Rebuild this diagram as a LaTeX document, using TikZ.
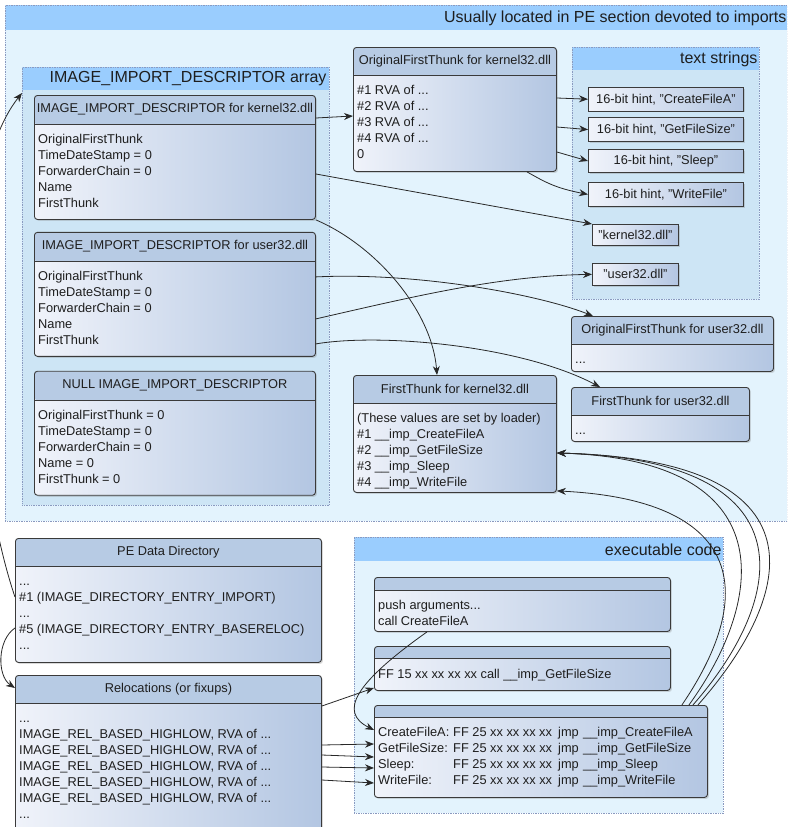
\documentclass[tikz,border=0pt]{standalone}
\usepackage{fontspec}
\setmainfont{Liberation Sans}
\usetikzlibrary{arrows.meta, positioning, calc, shadows}

\definecolor{bandblue}{RGB}{154,205,254}
\definecolor{outerfill}{RGB}{227,243,253}
\definecolor{innerfill}{RGB}{205,229,245}
\definecolor{grpline}{RGB}{138,154,192}
\definecolor{hdrfill}{RGB}{183,203,228}
\definecolor{bodyL}{RGB}{240,243,250}
\definecolor{bodyR}{RGB}{179,198,226}
\definecolor{boxline}{RGB}{58,58,58}
\definecolor{arrowc}{RGB}{40,40,40}
\definecolor{txt}{RGB}{30,30,30}

\begin{document}
\begin{tikzpicture}[
    x=1pt, y=-1pt,
    every node/.style={font=\fontsize{12.8}{16}\selectfont, text=txt},
    grp/.style={draw=grpline, densely dotted, line width=0.7pt, anchor=north west, inner sep=0pt},
    band/.style={path picture={\fill[bandblue] (path picture bounding box.north west) rectangle ([yshift=-#1]path picture bounding box.north east);}},
    grptitle/.style={font=\fontsize{16}{19}\selectfont, anchor=east, inner sep=0pt},
    box/.style={draw=boxline, line width=0.9pt, rounded corners=3pt, left color=bodyL, right color=bodyR, anchor=north west, inner sep=0pt, drop shadow={opacity=0.3, shadow xshift=1.5pt, shadow yshift=-1.5pt}},
    hdr/.style={path picture={\fill[hdrfill] (path picture bounding box.north west) rectangle ([yshift=-#1]path picture bounding box.north east);
        \draw[boxline, line width=1.2pt] ([yshift=-#1]path picture bounding box.north west) -- ([yshift=-#1]path picture bounding box.north east);}},
    ttl/.style={inner sep=0pt},
    body/.style={anchor=north west, align=left, inner xsep=4pt, inner ysep=0pt},
    hint/.style={draw=boxline, line width=0.9pt, left color=bodyL, right color=bodyR, anchor=north west, inner sep=0pt, minimum width=155pt, minimum height=23.5pt, drop shadow={opacity=0.3, shadow xshift=1.5pt, shadow yshift=-1.5pt}},
    arr/.style={-{Stealth[length=9pt, width=7pt]}, draw=arrowc, line width=0.8pt}
]
    \path[use as bounding box] (0,0) rectangle (787,827);
    \clip (0,0) rectangle (787,827);

    % groups
    \node (imports) [grp, fill=outerfill, band=25pt, minimum width=782pt, minimum height=516pt] at (5,5) {};
    \node (imports-t) [grptitle] at ($(imports.north east)+(-1,13)$) {Usually located in PE section devoted to imports};
    \node (descarr) [grp, fill=innerfill, band=23pt, minimum width=307pt, minimum height=438pt] at (22,67) {};
    \node (descarr-t) [grptitle] at ($(descarr.north east)+(-3,12)$) {IMAGE\_IMPORT\_DESCRIPTOR array};
    \node (strings) [grp, fill=innerfill, band=23pt, minimum width=187pt, minimum height=252pt] at (572,47) {};
    \node (strings-t) [grptitle] at ($(strings.north east)+(-2,12)$) {text strings};
    \node (execcode) [grp, fill=outerfill, band=24pt, minimum width=369pt, minimum height=276pt] at (354,537) {};
    \node (execcode-t) [grptitle] at ($(execcode.north east)+(-2,13)$) {executable code};

    % import descriptors
    \node (kdesc) [box, hdr=29pt, minimum width=281pt, minimum height=124pt] at (34,95) {};
    \node (kdesc-t) [ttl] at ($(kdesc.north)+(0,14.5)$) {IMAGE\_IMPORT\_DESCRIPTOR for kernel32.dll};
    \node (kdesc-b) [body] at ($(kdesc.north west)+(0,37.4)$) {\strut OriginalFirstThunk\\TimeDateStamp = 0\\ForwarderChain = 0\\Name\\FirstThunk};

    \node (udesc) [box, hdr=29pt, minimum width=281pt, minimum height=124pt, below=12pt of kdesc] {};
    \node (udesc-t) [ttl] at ($(udesc.north)+(0,14.5)$) {IMAGE\_IMPORT\_DESCRIPTOR for user32.dll};
    \node (udesc-b) [body] at ($(udesc.north west)+(0,37.4)$) {\strut OriginalFirstThunk\\TimeDateStamp = 0\\ForwarderChain = 0\\Name\\FirstThunk};

    \node (ndesc) [box, hdr=29pt, minimum width=281pt, minimum height=124pt, below=14pt of udesc] {};
    \node (ndesc-t) [ttl] at ($(ndesc.north)+(0,14.5)$) {NULL IMAGE\_IMPORT\_DESCRIPTOR};
    \node (ndesc-b) [body] at ($(ndesc.north west)+(0,37.4)$) {\strut OriginalFirstThunk = 0\\TimeDateStamp = 0\\ForwarderChain = 0\\Name = 0\\FirstThunk = 0};

    % thunks
    \node (koft) [box, hdr=28pt, minimum width=203pt, minimum height=124pt] at (353,47) {};
    \node (koft-t) [ttl] at ($(koft.north)+(0,14)$) {OriginalFirstThunk for kernel32.dll};
    \node (koft-b) [body] at ($(koft.north west)+(0,36.4)$) {\strut\#1 RVA of ...\\\#2 RVA of ...\\\#3 RVA of ...\\\#4 RVA of ...\\0};

    \node (kft) [box, hdr=28pt, minimum width=203pt, minimum height=117pt] at (353,375) {};
    \node (kft-t) [ttl] at ($(kft.north)+(0,14)$) {FirstThunk for kernel32.dll};
    \node (kft-b) [body] at ($(kft.north west)+(0,36.4)$) {\strut(These values are set by loader)\\\#1 \_\_imp\_CreateFileA\\\#2 \_\_imp\_GetFileSize\\\#3 \_\_imp\_Sleep\\\#4 \_\_imp\_WriteFile};

    \node (uoft) [box, hdr=28pt, minimum width=202pt, minimum height=55pt] at (571,316) {};
    \node (uoft-t) [ttl] at ($(uoft.north)+(0,14)$) {OriginalFirstThunk for user32.dll};
    \node (uoft-b) [body] at ($(uoft.north west)+(0,36.4)$) {\strut...};

    \node (uft) [box, hdr=28pt, minimum width=178pt, minimum height=54pt] at (571,387) {};
    \node (uft-t) [ttl] at ($(uft.north)+(0,14)$) {FirstThunk for user32.dll};
    \node (uft-b) [body] at ($(uft.north west)+(0,36.4)$) {\strut...};

    % text strings
    \node (h1) [hint] at (588,87) {16-bit hint, "CreateFileA"};
    \node (h2) [hint, below=6pt of h1] {16-bit hint, "GetFileSize"};
    \node (h3) [hint, below=7pt of h2] {16-bit hint, "Sleep"};
    \node (h4) [hint, below=9pt of h3] {16-bit hint, "WriteFile"};
    \node (kname) [hint, minimum width=86pt, minimum height=21pt] at (592,224) {"kernel32.dll"};
    \node (uname) [hint, minimum width=86pt, minimum height=22pt, below=17pt of kname] {"user32.dll"};

    % directory and relocations
    \node (pedir) [box, hdr=28pt, minimum width=306pt, minimum height=124pt] at (15,538) {};
    \node (pedir-t) [ttl] at ($(pedir.north)+(0,14)$) {PE Data Directory};
    \node (pedir-b) [body] at ($(pedir.north west)+(0,36.4)$) {\strut...\\\#1 (IMAGE\_DIRECTORY\_ENTRY\_IMPORT)\\...\\\#5 (IMAGE\_DIRECTORY\_ENTRY\_BASERELOC)\\...};

    \node (reloc) [box, hdr=28pt, minimum width=306pt, minimum height=170pt] at (15,675) {};
    \node (reloc-t) [ttl] at ($(reloc.north)+(0,14)$) {Relocations (or fixups)};
    \node (reloc-b) [body] at ($(reloc.north west)+(0,36.4)$) {\strut...\\IMAGE\_REL\_BASED\_HIGHLOW, RVA of ...\\IMAGE\_REL\_BASED\_HIGHLOW, RVA of ...\\IMAGE\_REL\_BASED\_HIGHLOW, RVA of ...\\IMAGE\_REL\_BASED\_HIGHLOW, RVA of ...\\IMAGE\_REL\_BASED\_HIGHLOW, RVA of ...\\...};

    % code
    \node (code1) [box, hdr=13pt, minimum width=296pt, minimum height=54pt] at (374,577) {};
    \node (code1-b) [body] at ($(code1.north west)+(0,21.4)$) {\strut push arguments...\\call CreateFileA};
    \node (code2) [box, hdr=12pt, minimum width=296pt, minimum height=44pt] at (374,646) {};
    \node (code2-b) [body] at ($(code2.north west)+(0,21.4)$) {\strut FF 15 xx xx xx xx call \_\_imp\_GetFileSize};
    \node (code3) [box, hdr=12pt, minimum width=333pt, minimum height=92pt] at (374,705) {};
    \node (code3-b) [body] at ($(code3.north west)+(0,20.4)$) {%
        \strut\makebox[75pt][l]{CreateFileA:}\makebox[105pt][l]{FF 25 xx xx xx xx}\makebox[25pt][l]{jmp}\_\_imp\_CreateFileA\\
        \makebox[75pt][l]{GetFileSize:}\makebox[105pt][l]{FF 25 xx xx xx xx}\makebox[25pt][l]{jmp}\_\_imp\_GetFileSize\\
        \makebox[75pt][l]{Sleep:}\makebox[105pt][l]{FF 25 xx xx xx xx}\makebox[25pt][l]{jmp}\_\_imp\_Sleep\\
        \makebox[75pt][l]{WriteFile:}\makebox[105pt][l]{FF 25 xx xx xx xx}\makebox[25pt][l]{jmp}\_\_imp\_WriteFile};

    % connectors
    \draw[arr] ($(kdesc.north east)+(0,23)$) -- ($(koft.north west)+(0,69)$);
    \draw[arr] ($(koft.north east)+(0,51)$) -- (h1.west);
    \draw[arr] ($(koft.north east)+(0,80)$) -- (h2.west);
    \draw[arr] ($(koft.north east)+(0,105)$) -- (h3.west);
    \draw[arr] ($(koft.south west)+(174,0)$) .. controls (545,182) and (555,188) .. (h4.west);
    \draw[arr] ($(kdesc.north east)+(0,79)$) -- (kname.north west);
    \draw[arr] (kdesc.south east) .. controls (375,245) and (432,310) .. ($(kft.north west)+(84,0)$);
    \draw[arr] ($(udesc.north east)+(0,45)$) .. controls (420,272) and (540,295) .. ($(uoft.north west)+(22,0)$);
    \draw[arr] ($(udesc.north east)+(0,87)$) .. controls (420,295) and (500,276) .. (uname.west);
    \draw[arr] ($(udesc.north east)+(0,112)$) .. controls (380,333) and (520,345) .. ($(uft.north west)+(29,0)$);

    \draw[arr] ($(pedir.north west)+(0,59)$) .. controls (-25,480) and (-55,190) .. ($(descarr.north west)+(0,26)$);
    \draw[arr] ($(pedir.north west)+(0,90)$) .. controls (-3,640) and (-3,676) .. ($(reloc.north west)+(0,13)$);
    \draw[arr] ($(reloc.north east)+(0,31)$) -- ($(code2.south west)+(0,-3)$);
    \draw[arr] ($(code1.south west)+(53,0)$) .. controls (355,683) and (338,712) .. ($(code3.north west)+(0,25)$);
    \draw[arr] ($(reloc.north east)+(0,70)$) -- ($(code3.north west)+(0,39)$);
    \draw[arr] ($(reloc.north east)+(0,80)$) -- ($(code3.north west)+(0,52)$);
    \draw[arr] ($(reloc.north east)+(0,92)$) -- ($(code3.north west)+(0,63)$);
    \draw[arr] ($(reloc.north east)+(0,105)$) -- ($(code3.north west)+(0,78)$);

    \draw[arr] ($(code3.north east)+(-19,0)$) .. controls (765,600) and (785,460) .. ($(kft.north east)+(0,78)$);
    \draw[arr] ($(code3.north east)+(-15,0)$) .. controls (785,600) and (815,460) .. ($(kft.north east)+(0,78)$);
    \draw[arr] ($(code3.north east)+(-10,0)$) .. controls (795,595) and (830,460) .. ($(kft.north east)+(0,78)$);
    \draw[arr] ($(code3.north east)+(-26,0)$) .. controls (760,590) and (740,500) .. ($(kft.south east)+(0,-2)$);
\end{tikzpicture}
\end{document}
